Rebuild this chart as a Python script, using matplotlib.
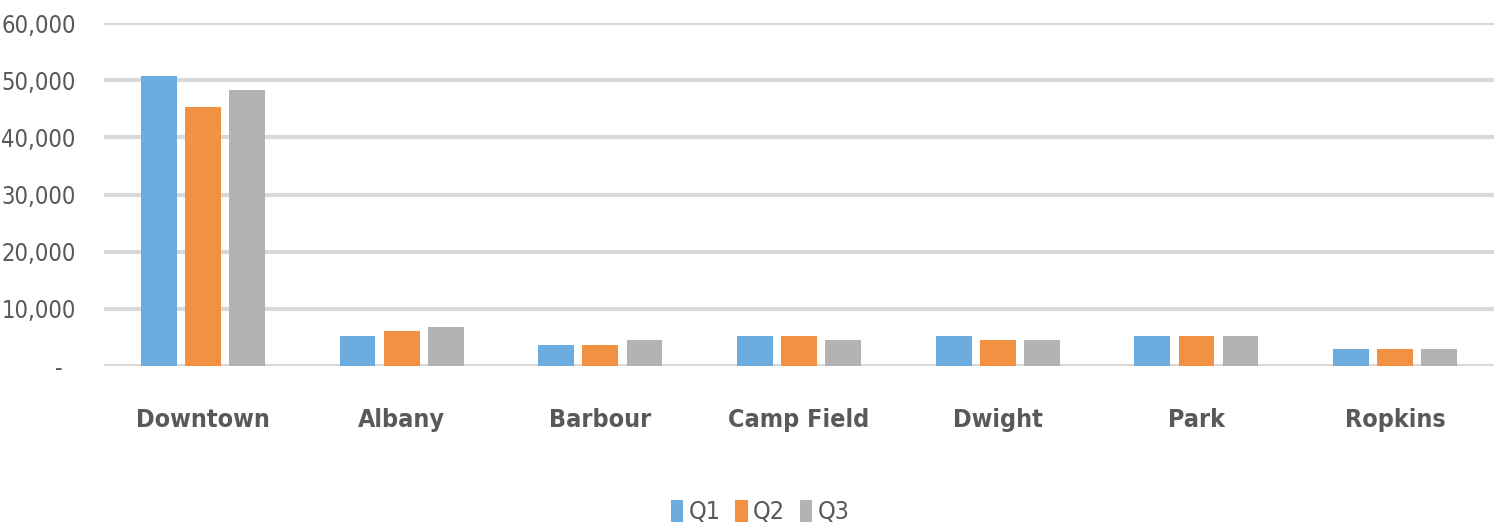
#!/usr/bin/env python3
import numpy as np
import matplotlib
matplotlib.use("Agg")
import matplotlib.pyplot as plt
from matplotlib.ticker import FuncFormatter

plt.rcParams['font.family'] = ['DejaVu Sans']
plt.rcParams['font.stretch'] = 'condensed'

# data
categories = ["Downtown", "Albany", "Barbour", "Camp Field", "Dwight", "Park", "Ropkins"]
series = ["Q1", "Q2", "Q3"]
q1 = [50650, 5270, 3710, 5270, 5270, 5270, 2930]
q2 = [45250, 6050, 3710, 5270, 4490, 5270, 2930]
q3 = [48300, 6830, 4490, 4490, 4490, 5270, 2930]
yticks = [0, 10000, 20000, 30000, 40000, 50000, 60000]

colors = ["#6CACDF", "#F29141", "#B3B3B3"]
text_col = "#595959"

fig = plt.figure(figsize=(15.02, 5.29), dpi=100)
ax = fig.add_axes([0.069, 0.308, 0.926, 0.6485])

x = np.arange(len(categories))
w = 0.18
offs = [-0.222, 0.0, 0.222]
for vals, off, c, name in zip([q1, q2, q3], offs, colors, series):
    ax.bar(x + off, vals, width=w, color=c, label=name, zorder=3)

ax.set_ylim(0, 60000)
ax.set_xlim(-0.5, len(categories) - 0.5)
ax.set_yticks(yticks)
# accounting style: zero shown as a dash
ax.yaxis.set_major_formatter(FuncFormatter(lambda v, p: "-  " if v == 0 else "{:,.0f}".format(v)))
ax.grid(axis='y', color="#D9D9D9", linewidth=3, zorder=0)
for s in ax.spines.values():
    s.set_visible(False)
ax.tick_params(axis='both', length=0)
ax.tick_params(axis='y', labelsize=17, labelcolor=text_col, pad=20)
ax.set_xticks(x)
ax.set_xticklabels(categories, fontsize=18, fontweight='bold', color=text_col)
ax.tick_params(axis='x', pad=30)

leg = fig.legend(loc='center', bbox_to_anchor=(0.506, 0.032), ncol=3, frameon=False,
                 fontsize=18, handlelength=0.5, handleheight=1.0, handletextpad=0.2,
                 columnspacing=0.6)
for t in leg.get_texts():
    t.set_color(text_col)

fig.savefig("out.png", dpi=100)
